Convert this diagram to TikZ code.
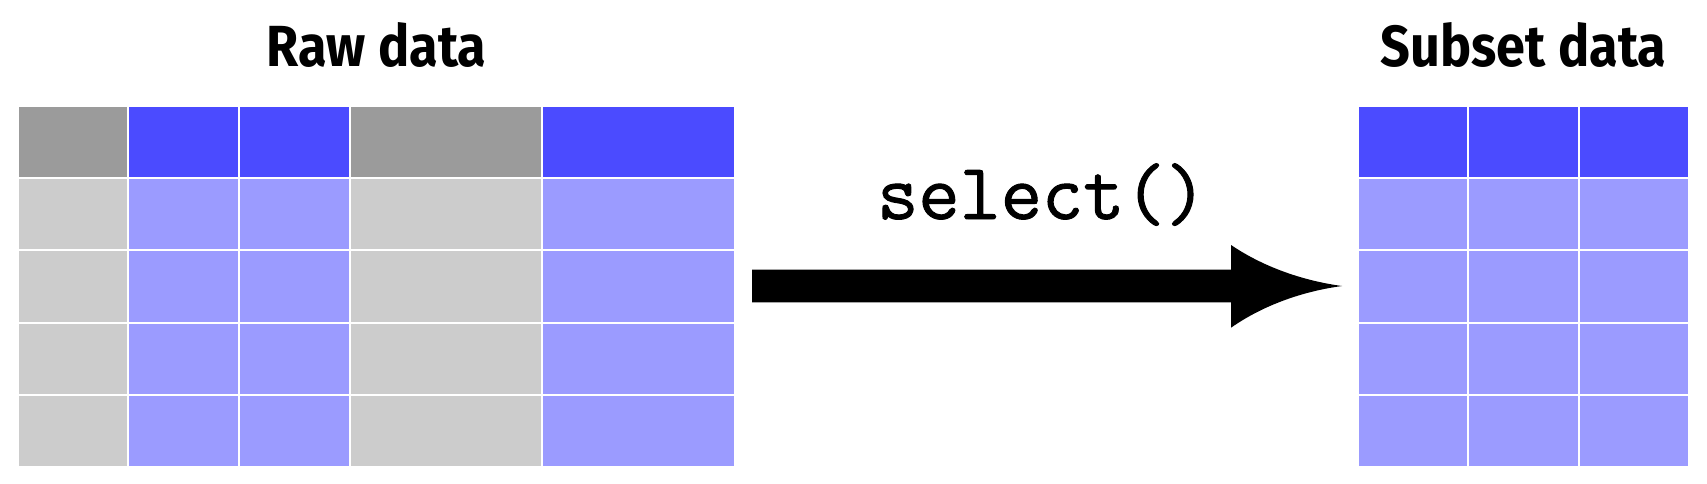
\documentclass[tikz,border=0pt]{standalone}
\usepackage{fontspec}
\usetikzlibrary{calc}
\newfontfamily\titlefont{Fira Sans}
\newfontfamily\codefont[FakeBold=1.2]{Latin Modern Mono}
\definecolor{hdgray}{HTML}{9B9B9B}
\definecolor{hdblue}{HTML}{4B4BFF}
\definecolor{cellgray}{HTML}{CCCCCC}
\definecolor{cellblue}{HTML}{9B9BFF}
\tikzset{
  cellbox/.style={draw=white, line width=2pt},
  titletext/.style={font=\titlefont\bfseries\fontsize{58}{66}\selectfont, inner sep=0pt, anchor=base},
  codetext/.style={font=\codefont\fontsize{80}{90}\selectfont, inner sep=0pt, anchor=base},
}
\begin{document}
\begin{tikzpicture}[x=1pt,y=-1pt]
\useasboundingbox (0,0) rectangle (1707,484);
% left table
\def\rows{106/178,178/250,250/322.5,322.5/395,395/467}
\foreach \xa/\xb/\kind in {18/128/g,128/239/b,239/350/b,350/542/g,542/735/b}{
  \foreach \ya/\yb [count=\r] in \rows{
    \ifnum\r=1
      \if\kind g\def\cc{hdgray}\else\def\cc{hdblue}\fi
    \else
      \if\kind g\def\cc{cellgray}\else\def\cc{cellblue}\fi
    \fi
    \filldraw[cellbox, fill=\cc] (\xa,\ya) rectangle (\xb,\yb);
  }
}
% right table
\foreach \xa/\xb in {1358/1468,1468/1579,1579/1689}{
  \foreach \ya/\yb [count=\r] in \rows{
    \ifnum\r=1 \def\cc{hdblue}\else\def\cc{cellblue}\fi
    \filldraw[cellbox, fill=\cc] (\xa,\ya) rectangle (\xb,\yb);
  }
}
% titles
\node[titletext] (rawtitle) at (376.5,66.5) {\scalebox{0.9}[1]{Raw data}};
\node[titletext] (subtitle) at (1523.5,66.5) {\scalebox{0.9}[1]{Subset data}};
\node[codetext] (selectlabel) at (1042,219) {select()};
% arrow
\coordinate (arrowstart) at (752,286);
\coordinate (arrowtip) at (1342,286);
\fill[black] ($(arrowstart)+(0,-16.3)$) -- (1231,269.7) -- (1231,245)
  .. controls (1265,268) and (1305,281) .. (arrowtip)
  .. controls (1305,291) and (1265,304) .. (1231,327.7)
  -- (1231,302.3) -- ($(arrowstart)+(0,16.3)$) -- cycle;
\end{tikzpicture}
\end{document}
